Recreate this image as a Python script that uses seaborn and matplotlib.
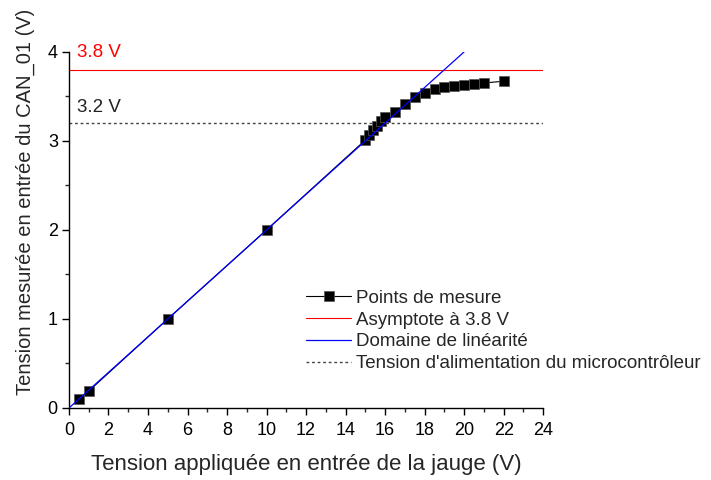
import pandas as pd
import numpy as np
import matplotlib
matplotlib.use('Agg')
import matplotlib.pyplot as plt
import seaborn as sns

# measured points
tension_jauge = [0.5, 1, 5, 10, 15, 15.2, 15.4, 15.6, 15.8, 16, 16.5, 17, 17.5, 18,
                 18.5, 19, 19.5, 20, 20.5, 21, 22]
tension_can = [0.1, 0.19, 1.0, 2.0, 3.01, 3.07, 3.12, 3.17, 3.22, 3.27, 3.32, 3.41,
               3.49, 3.54, 3.58, 3.60, 3.62, 3.63, 3.64, 3.65, 3.67]

# linear domain
lin_x = [0, 20]
lin_y = [0, 4]

asymptote = 3.8
alim = 3.2

sns.set_style('ticks')
plt.rcParams['font.family'] = ['Liberation Sans', 'DejaVu Sans']

df = pd.DataFrame({'x': tension_jauge, 'y': tension_can})
lin = pd.DataFrame({'x': lin_x, 'y': lin_y})

fig = plt.figure(figsize=(7.11, 4.8), dpi=100)
ax = fig.add_axes([0.097, 0.15, 0.667, 0.742])

sns.lineplot(data=df, x='x', y='y', ax=ax, color='black', linewidth=0.8,
             marker='s', markersize=6.5, markeredgecolor='#555555', markeredgewidth=0.5,
             label='Points de mesure', zorder=3)
ax.axhline(asymptote, color='red', linewidth=0.8, label='Asymptote à 3.8 V')
sns.lineplot(data=lin, x='x', y='y', ax=ax, color='blue', linewidth=0.9,
             label='Domaine de linéarité', zorder=4)
ax.axhline(alim, color='#444444', linewidth=1.0, linestyle=(0, (2, 2)),
           label="Tension d'alimentation du microcontrôleur")

ax.text(0.4, 3.99, '3.8 V', color='red', fontsize=13.5, va='center')
ax.text(0.4, 3.37, '3.2 V', color='#222222', fontsize=13.5, va='center')

ax.set_xlim(0, 24)
ax.set_ylim(0, 4)
ax.set_xticks(range(0, 25, 2))
ax.set_yticks([0, 1, 2, 3, 4])
ax.set_xticks(np.arange(1, 24, 2), minor=True)
ax.set_yticks(np.arange(0.5, 4, 1), minor=True)
ax.tick_params(which='major', direction='out', length=5, width=1, labelsize=13,
               colors='black')
ax.tick_params(axis='x', which='major', pad=5)
ax.tick_params(axis='y', which='major', pad=3)
ax.tick_params(which='minor', direction='out', length=3, width=1)
for s in ['top', 'right']:
    ax.spines[s].set_visible(False)
for s in ['left', 'bottom']:
    ax.spines[s].set_linewidth(1)
    ax.spines[s].set_color('black')

ax.set_xlabel('Tension appliquée en entrée de la jauge (V)', fontsize=16, labelpad=11)
ax.set_ylabel('Tension mesurée en entrée du CAN_01 (V)', fontsize=14.5)
ax.yaxis.set_label_coords(-0.072, 0.579)

ax.legend(loc='upper left', bbox_to_anchor=(0.42, 0.412), bbox_transform=fig.transFigure,
          frameon=False, fontsize=13.5, handlelength=2.4, labelspacing=0.25,
          handletextpad=0.25, borderaxespad=0)

fig.savefig('out.png', dpi=100)
